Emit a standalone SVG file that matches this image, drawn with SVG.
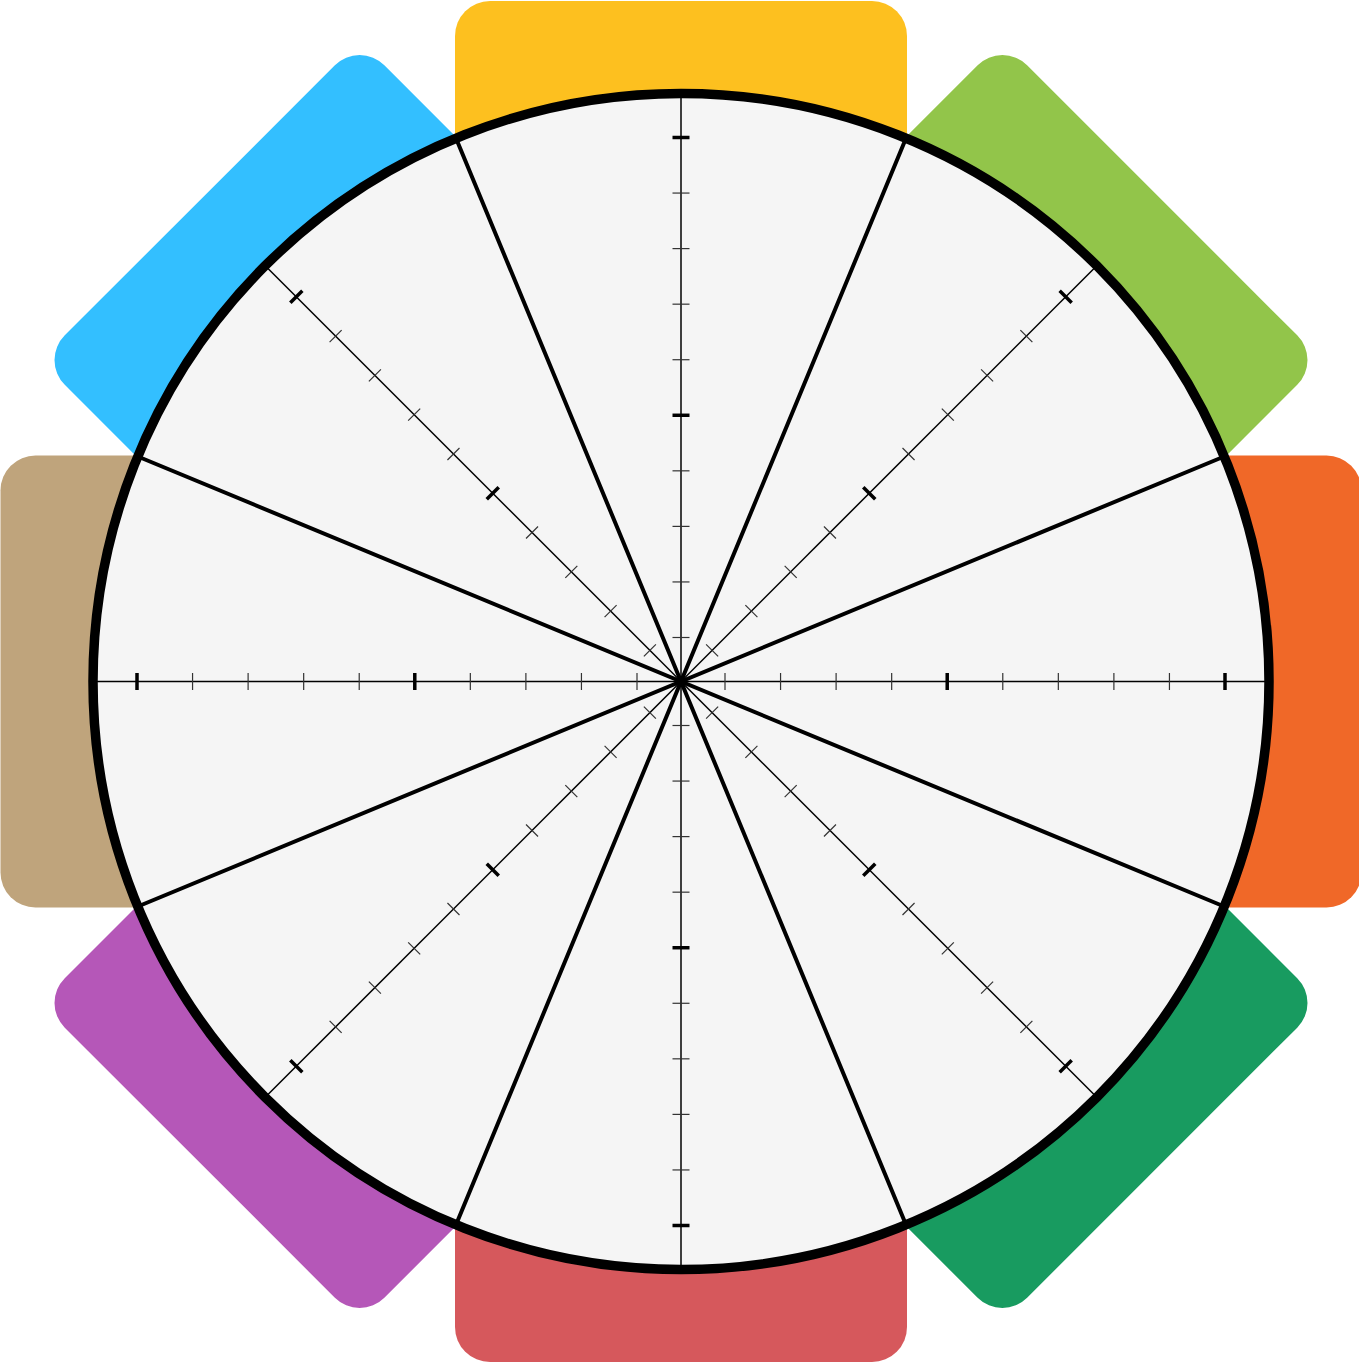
<svg xmlns="http://www.w3.org/2000/svg" xmlns:xlink="http://www.w3.org/1999/xlink" width="1359" height="1365" viewBox="0 0 1359 1365">
  <style>
    .axis { stroke: #000; stroke-width: 1.5; fill: none; }
    .minor { stroke: #333; stroke-width: 1.2; }
    .major { stroke: #000; stroke-width: 3.5; }
    .wedge { stroke: #000; stroke-width: 4; stroke-linecap: round; }
    .rim { fill: none; stroke: #000; stroke-width: 9.5; }
  </style>
  <defs>
    <rect id="tab" x="-226" y="-680.5" width="452" height="680.5" rx="35" ry="35"/>
    <g id="spoke">
      <line class="axis" x1="0" y1="0" x2="0" y2="-588"/>
      <line class="minor" x1="-8.5" y1="-44" x2="8.5" y2="-44"/>
      <line class="minor" x1="-8.5" y1="-99.56" x2="8.5" y2="-99.56"/>
      <line class="minor" x1="-8.5" y1="-155.11" x2="8.5" y2="-155.11"/>
      <line class="minor" x1="-8.5" y1="-210.67" x2="8.5" y2="-210.67"/>
      <line class="major" x1="-8.5" y1="-266.22" x2="8.5" y2="-266.22"/>
      <line class="minor" x1="-8.5" y1="-321.78" x2="8.5" y2="-321.78"/>
      <line class="minor" x1="-8.5" y1="-377.33" x2="8.5" y2="-377.33"/>
      <line class="minor" x1="-8.5" y1="-432.89" x2="8.5" y2="-432.89"/>
      <line class="minor" x1="-8.5" y1="-488.44" x2="8.5" y2="-488.44"/>
      <line class="major" x1="-8.5" y1="-544" x2="8.5" y2="-544"/>
    </g>
  </defs>
  <rect width="1359" height="1365" fill="#ffffff"/>
  <g transform="translate(681,681.5)">
    <g id="tab-yellow"><use xlink:href="#tab" fill="#FDC01F"/></g>
    <g id="tab-green"><use xlink:href="#tab" fill="#92C54A" transform="rotate(45)"/></g>
    <g id="tab-orange"><use xlink:href="#tab" fill="#F06828" transform="rotate(90)"/></g>
    <g id="tab-darkgreen"><use xlink:href="#tab" fill="#189B60" transform="rotate(135)"/></g>
    <g id="tab-red"><use xlink:href="#tab" fill="#D6585C" transform="rotate(180)"/></g>
    <g id="tab-purple"><use xlink:href="#tab" fill="#B557B8" transform="rotate(225)"/></g>
    <g id="tab-tan"><use xlink:href="#tab" fill="#BFA47C" transform="rotate(270)"/></g>
    <g id="tab-blue"><use xlink:href="#tab" fill="#33BFFF" transform="rotate(315)"/></g>

    <g id="wheel"><circle cx="0" cy="0" r="588" fill="#F5F5F5"/></g>

    <g id="connectors">
      <use xlink:href="#spoke"/>
      <use xlink:href="#spoke" transform="rotate(45)"/>
      <use xlink:href="#spoke" transform="rotate(90)"/>
      <use xlink:href="#spoke" transform="rotate(135)"/>
      <use xlink:href="#spoke" transform="rotate(180)"/>
      <use xlink:href="#spoke" transform="rotate(225)"/>
      <use xlink:href="#spoke" transform="rotate(270)"/>
      <use xlink:href="#spoke" transform="rotate(315)"/>
      <line class="wedge" x1="-225" y1="-543.2" x2="225" y2="543.2"/>
      <line class="wedge" x1="225" y1="-543.2" x2="-225" y2="543.2"/>
      <line class="wedge" x1="543.2" y1="-225" x2="-543.2" y2="225"/>
      <line class="wedge" x1="543.2" y1="225" x2="-543.2" y2="-225"/>
      <circle cx="0" cy="0" r="4" fill="#000"/>
    </g>

    <g id="rim"><circle class="rim" cx="0" cy="0" r="588"/></g>
  </g>
</svg>
